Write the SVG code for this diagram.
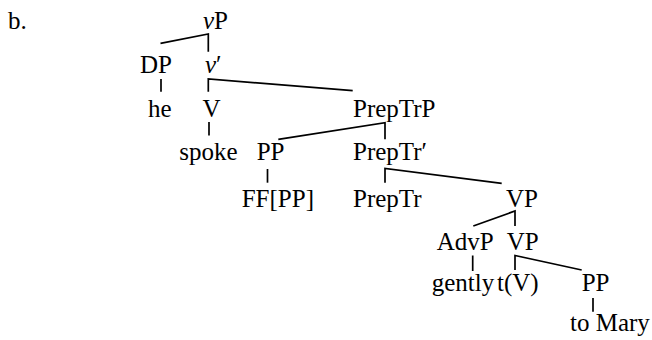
<svg xmlns="http://www.w3.org/2000/svg" width="652" height="340" viewBox="0 0 652 340">
<style>
text{font-family:"Liberation Serif","Times New Roman",serif;font-size:25px;fill:#000}
.i{font-style:italic}
#edges line,#edges polyline{stroke:#000;stroke-width:1.7;fill:none}
</style>
<rect width="652" height="340" fill="#fff"/>
<text x="8" y="28.5">b.</text>
<g id="edges">
<polyline points="160.5,43.3 208.3,34 208.3,51.7"/>
<line x1="161" y1="79" x2="161" y2="91.7"/>
<polyline points="208.3,91.7 208.3,79 352.7,90.7"/>
<line x1="209" y1="122" x2="209" y2="135.5"/>
<polyline points="278.3,139.3 385,122.7 385,139.3"/>
<line x1="267.5" y1="169" x2="267.5" y2="182.7"/>
<polyline points="385,182.7 385,168.5 501.7,183.3"/>
<polyline points="473.3,226 515,211 515,226"/>
<line x1="472.7" y1="255.5" x2="472.7" y2="271"/>
<polyline points="515,270 515,255.5 581.7,270"/>
<line x1="593" y1="298" x2="593" y2="311.7"/>
</g>
<g id="n-vP"><text x="203" y="28.5"><tspan class="i">v</tspan>P</text></g>
<g id="n-DP"><text x="140" y="73">DP</text></g>
<g id="n-vbar"><text x="205" y="73"><tspan class="i">v</tspan>′</text></g>
<g id="n-he"><text x="148" y="116.5">he</text></g>
<g id="n-V"><text x="202.5" y="116.5">V</text></g>
<g id="n-PrepTrP"><text x="353" y="116.5">PrepTrP</text></g>
<g id="n-spoke"><text x="179.3" y="159.5">spoke</text></g>
<g id="n-PP1"><text x="256.7" y="160">PP</text></g>
<g id="n-PrepTrbar"><text x="353" y="160">PrepTr′</text></g>
<g id="n-FF"><text x="241.7" y="206.7">FF[PP]</text></g>
<g id="n-PrepTr"><text x="353" y="206.7">PrepTr</text></g>
<g id="n-VP1"><text x="506" y="206.7">VP</text></g>
<g id="n-AdvP"><text x="436.7" y="249.5">AdvP</text></g>
<g id="n-VP2"><text x="506.7" y="249.5">VP</text></g>
<g id="n-gently"><text x="431.7" y="291">gently</text></g>
<g id="n-tV"><text x="497" y="291">t(V)</text></g>
<g id="n-PP2"><text x="581.7" y="291">PP</text></g>
<g id="n-toMary"><text x="570" y="331">to Mary</text></g>
</svg>
